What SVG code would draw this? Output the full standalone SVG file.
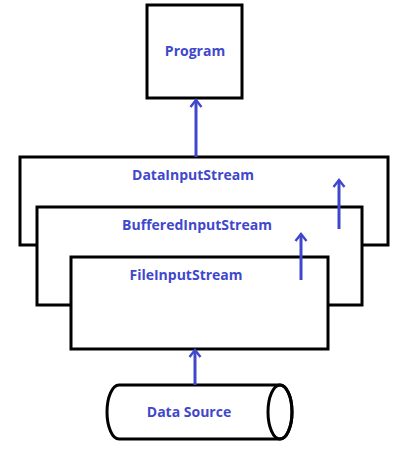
<svg xmlns="http://www.w3.org/2000/svg" width="408" height="468" viewBox="0 0 408 468">
<style>
.box{fill:#fff;stroke:#000;stroke-width:3}
.lbl{font-family:"Open Sans","Liberation Sans",sans-serif;font-weight:bold;font-size:14px;fill:#3f48cc;text-anchor:middle}
.arr{stroke:#3f48cc;stroke-width:3;fill:none}
</style>
<defs>
<marker id="ah" viewBox="0 0 12 14" refX="10" refY="7" markerWidth="12" markerHeight="14" markerUnits="userSpaceOnUse" orient="auto">
<path d="M3,1.5 L10,7 L3,12.5" fill="none" stroke="#3f48cc" stroke-width="2.4"/>
</marker>
</defs>
<rect width="408" height="468" fill="#fff"/>
<g id="program">
<rect class="box" x="147" y="5" width="95" height="93"/>
<text class="lbl" x="195" y="56">Program</text>
</g>
<g id="datainputstream">
<rect class="box" x="20" y="157" width="368" height="88"/>
<text class="lbl" x="193" y="180">DataInputStream</text>
</g>
<g id="bufferedinputstream">
<rect class="box" x="37" y="207" width="325" height="98"/>
<text class="lbl" x="197" y="230">BufferedInputStream</text>
</g>
<g id="fileinputstream">
<rect class="box" x="71" y="257" width="257" height="92"/>
<text class="lbl" x="186" y="280">FileInputStream</text>
</g>
<g id="datasource">
<path class="box" d="M119,385 L280,385 A12,27 0 0 1 280,439 L119,439 A12,27 0 0 1 119,385 Z"/>
<ellipse cx="280" cy="412" rx="12" ry="27" fill="none" stroke="#000" stroke-width="3"/>
<text class="lbl" x="189" y="417">Data Source</text>
</g>
<g id="connectors">
<line class="arr" x1="196" y1="157" x2="196" y2="100" marker-end="url(#ah)"/>
<line class="arr" x1="339" y1="229" x2="339" y2="180" marker-end="url(#ah)"/>
<line class="arr" x1="301" y1="280" x2="301" y2="234" marker-end="url(#ah)"/>
<line class="arr" x1="195" y1="385" x2="195" y2="350" marker-end="url(#ah)"/>
</g>
</svg>
